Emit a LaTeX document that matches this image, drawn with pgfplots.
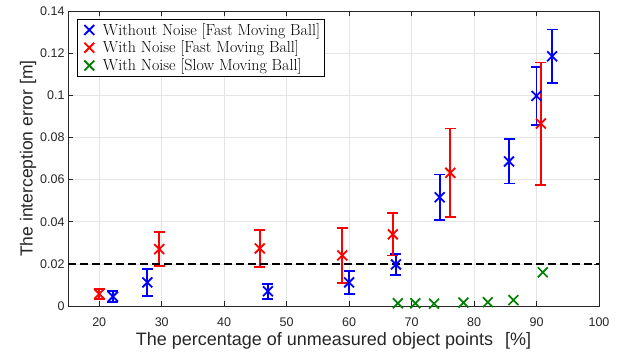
\documentclass[border=0pt]{standalone}
\usepackage{fontspec}
\setsansfont{Liberation Sans}
\usepackage{pgfplots}
\pgfplotsset{compat=1.18}
\definecolor{mgreen}{rgb}{0,0.5,0}
\definecolor{axgray}{rgb}{0.15,0.15,0.15}
\begin{document}
\begin{tikzpicture}
\useasboundingbox (-68pt,-46pt) rectangle (558pt,306pt);
\begin{axis}[
  anchor=south west, at={(0pt,0pt)},
  scale only axis, width=531pt, height=295pt,
  xmin=15, xmax=100, ymin=0, ymax=0.14,
  xtick={20,30,...,100},
  ytick={0,0.02,0.04,0.06,0.08,0.1,0.12,0.14},
  yticklabels={0,0.02,0.04,0.06,0.08,0.1,0.12,0.14},
  tick align=inside, tick pos=both,
  major tick length=5pt,
  grid=major,
  major grid style={draw=black!10, line width=0.5pt},
  axis line style={draw=axgray, line width=0.6pt},
  tick style={draw=axgray, line width=0.6pt},
  /pgf/number format/assume math mode=true,
  ticklabel style={font=\sffamily\fontsize{12.5}{13}\selectfont, text=axgray},
  xticklabel style={yshift=-8pt},
  xlabel={The percentage of unmeasured object points\hspace{12pt}[\%]},
  ylabel={The interception error [m]},
  xlabel style={font=\sffamily\fontsize{18}{19}\selectfont, text=axgray, yshift=1pt},
  ylabel style={font=\sffamily\fontsize{17.5}{18}\selectfont, text=axgray, yshift=-3pt},
  legend style={at={(0.017,0.973)}, anchor=north west, draw=black, line width=0.5pt,
    font=\rmfamily\fontsize{16}{18}\selectfont, inner sep=2pt, row sep=0.3pt,
    nodes={inner sep=2pt}},
  legend cell align=left,
  legend image code/.code={\path (0cm,0cm) (0.7cm,0cm);
    \draw[#1, only marks, mark size=7pt, line width=1.8pt] plot coordinates {(0.32cm,0cm)};},
]
\addplot[blue, only marks, mark=x, mark size=7pt, line width=1.8pt,
  error bars/.cd, y dir=both, y explicit, error mark=|,
  error bar style={line width=1.8pt},
  error mark options={mark size=5.5pt, line width=1.8pt}]
  table[x=x, y=y, y error=e] {
x y e
22.2 0.0045 0.0025
27.7 0.0112 0.0063
47.0 0.0070 0.0035
60.0 0.0112 0.0055
67.5 0.0197 0.0050
74.5 0.0516 0.0108
85.6 0.0686 0.0105
90.0 0.0997 0.0138
92.5 0.1185 0.0127
};
\addlegendentry{Without Noise [Fast Moving Ball]}
\addplot[red, only marks, mark=x, mark size=7pt, line width=1.8pt,
  error bars/.cd, y dir=both, y explicit, error mark=|,
  error bar style={line width=1.8pt},
  error mark options={mark size=5.5pt, line width=1.8pt}]
  table[x=x, y=y, y error=e] {
x y e
20.0 0.0057 0.0025
29.6 0.0270 0.0080
45.7 0.0273 0.0088
58.9 0.0240 0.0130
67.0 0.0340 0.0100
76.2 0.0632 0.0210
90.7 0.0866 0.0290
};
\addlegendentry{With Noise [Fast Moving Ball]}
\addplot[mgreen, only marks, mark=x, mark size=7pt, line width=1.7pt]
  table[x=x, y=y] {
x y
67.8 0.0013
70.6 0.0013
73.6 0.0011
78.3 0.0016
82.2 0.0018
86.3 0.0028
91.0 0.0160
};
\addlegendentry{With Noise [Slow Moving Ball]}
\addplot[black, dash pattern=on 8pt off 4pt, line width=1.5pt, forget plot]
  coordinates {(15,0.02) (100,0.02)};
\end{axis}
\end{tikzpicture}
\end{document}
